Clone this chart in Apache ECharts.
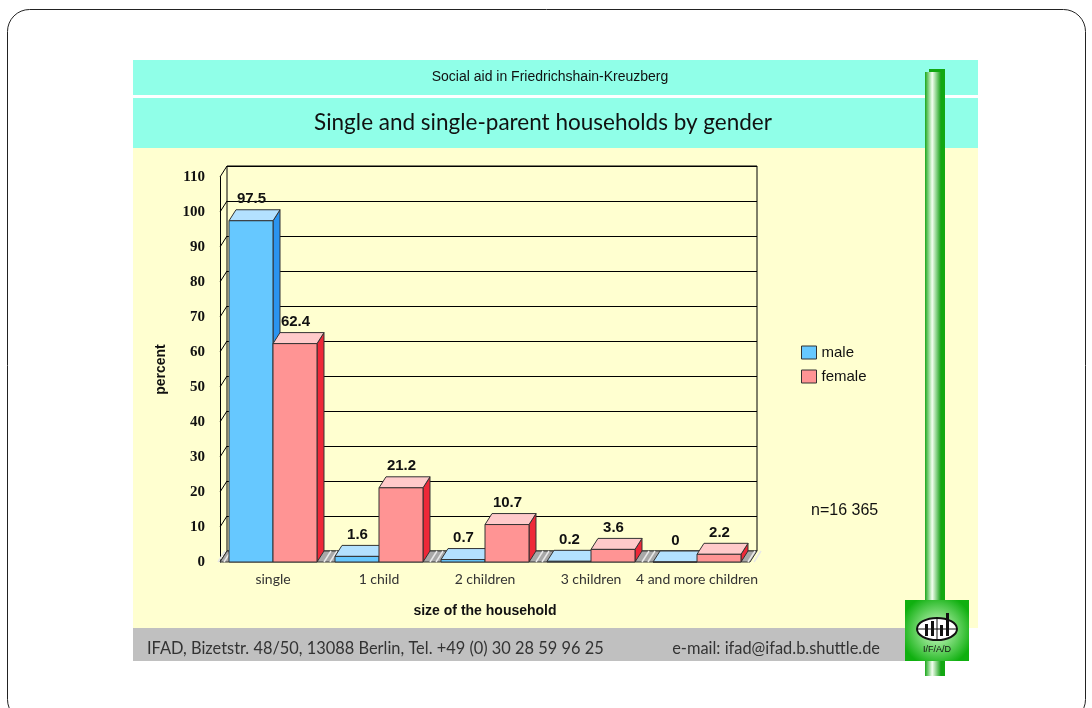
<!DOCTYPE html>
<html lang="en">

<head>
    <meta charset="UTF-8">
    <title>Single and single-parent households by gender</title>
    <script src="https://cdn.jsdelivr.net/npm/echarts@6/dist/echarts.min.js"></script>
    <style>
        html, body { margin: 0; padding: 0; background: #fff; }
    </style>
</head>

<body>
    <div id="main" style="width: 1092px; height: 708px;"></div>
    <script>
        // data
        var categories = ['single', '1 child', '2 children', '3 children', '4 and more children'];
        var maleValues = [97.5, 1.6, 0.7, 0.2, 0];
        var femaleValues = [62.4, 21.2, 10.7, 3.6, 2.2];
        var yTicks = [0, 10, 20, 30, 40, 50, 60, 70, 80, 90, 100, 110];

        // 3d depth of the box
        var DX = 7, DY = -11;

        var myChart = echarts.init(document.getElementById('main'));

        var colors = {
            male: { front: '#66c8ff', top: '#b3e1ff', side: '#2a94f0' },
            female: { front: '#ff9494', top: '#ffcaca', side: '#ee2838' }
        };

        function barRender(kind) {
            var c = colors[kind];
            return function (params, api) {
                var cat = api.value(0), v = api.value(1);
                var top = api.coord([cat, v]);
                var base = api.coord([cat, 0]);
                var bw = api.size([1, 0])[0] * 0.415;
                var x0 = kind === 'male' ? top[0] - bw : top[0];
                var x1 = x0 + bw;
                var yt = top[1], yb = base[1];
                var edge = { stroke: '#333', lineWidth: 1 };
                return {
                    type: 'group',
                    children: [
                        {
                            type: 'polygon',
                            shape: { points: [[x1, yt], [x1 + DX, yt + DY], [x1 + DX, yb + DY], [x1, yb]] },
                            style: Object.assign({ fill: c.side }, edge)
                        },
                        {
                            type: 'polygon',
                            shape: { points: [[x0, yt], [x0 + DX, yt + DY], [x1 + DX, yt + DY], [x1, yt]] },
                            style: Object.assign({ fill: c.top }, edge)
                        },
                        {
                            type: 'rect',
                            shape: { x: x0, y: yt, width: bw, height: yb - yt },
                            style: Object.assign({ fill: c.front }, edge)
                        },
                        {
                            type: 'text',
                            style: {
                                text: String(v),
                                x: (x0 + x1) / 2 + DX / 2 - 3,
                                y: yt + DY - 3,
                                align: 'center',
                                verticalAlign: 'bottom',
                                font: 'bold 15px "Liberation Sans", Arial, sans-serif',
                                fill: '#111'
                            }
                        }
                    ]
                };
            };
        }

        // floor strip under the bars
        function floorRender(params, api) {
            var cs = params.coordSys;
            var y0 = api.coord([0, 0])[1];
            var x0 = cs.x, x1 = cs.x + cs.width;
            var step = cs.width / categories.length;
            var children = [{
                type: 'polygon',
                shape: { points: [[x0, y0], [x1, y0], [x1 + DX, y0 + DY], [x0 + DX, y0 + DY]] },
                style: { fill: '#a8a8a8', stroke: '#333', lineWidth: 1 }
            }];
            for (var i = 0; i <= categories.length; i++) {
                var bx = x0 + i * step;
                [-2, 4].forEach(function (o) {
                    children.push({
                        type: 'line',
                        shape: { x1: bx + o, y1: y0, x2: bx + o + DX, y2: y0 + DY },
                        style: { stroke: '#e8e8e8', lineWidth: 1.5 }
                    });
                });
            }
            return { type: 'group', children: children };
        }

        // slanted ticks on the left wall
        function wallRender(params, api) {
            var cs = params.coordSys;
            var y = api.coord([0, api.value(0)])[1];
            return {
                type: 'line',
                shape: { x1: cs.x, y1: y, x2: cs.x + DX, y2: y + DY },
                style: { stroke: '#000', lineWidth: 1 }
            };
        }

        var option = {
            animation: false,
            graphic: [
                { type: 'rect', z: -10, shape: { x: 7.5, y: 9.5, width: 1078, height: 712, r: 22 }, style: { fill: '#fff', stroke: '#222', lineWidth: 1 } },
                { type: 'rect', z: -9, shape: { x: 133, y: 148, width: 845, height: 480 }, style: { fill: '#ffffd0' } },
                { type: 'rect', z: -9, shape: { x: 133, y: 60, width: 845, height: 35 }, style: { fill: '#90ffe8' } },
                { type: 'rect', z: -9, shape: { x: 133, y: 98, width: 845, height: 50 }, style: { fill: '#90ffe8' } },
                { type: 'rect', z: -9, shape: { x: 133, y: 628, width: 775, height: 33 }, style: { fill: '#c0c0c0' } },
                {
                    type: 'text', z: 5, style: {
                        text: 'Social aid in Friedrichshain-Kreuzberg', x: 550, y: 77, align: 'center', verticalAlign: 'middle',
                        font: '14px "Liberation Sans", Arial, sans-serif', fill: '#111'
                    }
                },
                {
                    type: 'text', z: 5, style: {
                        text: 'Single and single-parent households by gender', x: 543, y: 123, align: 'center', verticalAlign: 'middle',
                        font: '22.5px Lato, sans-serif', fill: '#111'
                    }
                },
                {
                    type: 'text', z: 5, style: {
                        text: 'IFAD, Bizetstr. 48/50, 13088 Berlin, Tel. +49 (0) 30 28 59 96 25', x: 147, y: 649, verticalAlign: 'middle',
                        font: '16.4px Lato, sans-serif', fill: '#333'
                    }
                },
                {
                    type: 'text', z: 5, style: {
                        text: 'e-mail: ifad@ifad.b.shuttle.de', x: 880, y: 649, align: 'right', verticalAlign: 'middle',
                        font: '16.4px Lato, sans-serif', fill: '#333'
                    }
                },
                {
                    type: 'text', z: 5, style: {
                        text: 'n=16 365', x: 811, y: 511, verticalAlign: 'middle',
                        font: '16px "Liberation Sans", Arial, sans-serif', fill: '#111'
                    }
                },
                // green pole
                { type: 'rect', z: 50, shape: { x: 929, y: 69, width: 16, height: 607 }, style: { fill: '#12a812' } },
                {
                    type: 'rect', z: 51, shape: { x: 925, y: 72, width: 16, height: 604 },
                    style: {
                        fill: new echarts.graphic.LinearGradient(0, 0, 1, 0, [
                            { offset: 0, color: '#1aa81a' },
                            { offset: 0.45, color: '#f4fff0' },
                            { offset: 1, color: '#14a014' }
                        ])
                    }
                },
                // logo
                {
                    type: 'rect', z: 60, shape: { x: 905, y: 600, width: 64, height: 61 },
                    style: {
                        fill: new echarts.graphic.RadialGradient(0.5, 0.5, 0.6, [
                            { offset: 0, color: '#d8ffd0' },
                            { offset: 1, color: '#10b010' }
                        ])
                    }
                },
                { type: 'ellipse', z: 61, shape: { cx: 937, cy: 629, rx: 20, ry: 11 }, style: { fill: '#fff', stroke: '#111', lineWidth: 2 } },
                { type: 'line', z: 62, shape: { x1: 917, y1: 629, x2: 957, y2: 629 }, style: { stroke: '#111', lineWidth: 1 } },
                { type: 'line', z: 62, shape: { x1: 937, y1: 618, x2: 937, y2: 640 }, style: { stroke: '#111', lineWidth: 1 } },
                { type: 'rect', z: 62, shape: { x: 925, y: 624, width: 3, height: 12 }, style: { fill: '#111' } },
                { type: 'rect', z: 62, shape: { x: 931, y: 621, width: 3, height: 15 }, style: { fill: '#111' } },
                { type: 'rect', z: 62, shape: { x: 940, y: 625, width: 3, height: 11 }, style: { fill: '#111' } },
                { type: 'rect', z: 62, shape: { x: 946, y: 613, width: 3, height: 23 }, style: { fill: '#111' } },
                {
                    type: 'text', z: 62, style: {
                        text: 'I/F/A/D', x: 937, y: 650, align: 'center', verticalAlign: 'middle',
                        font: '9px "Liberation Sans", Arial, sans-serif', fill: '#111'
                    }
                }
            ],
            legend: {
                data: ['male', 'female'],
                orient: 'vertical',
                left: 796,
                top: 340,
                icon: 'rect',
                itemWidth: 15,
                itemHeight: 13,
                itemGap: 9,
                itemStyle: { borderColor: '#333', borderWidth: 1 },
                textStyle: { fontFamily: '"Liberation Sans", Arial, sans-serif', fontSize: 15, color: '#111' }
            },
            grid: [
                { left: 220, top: 177, width: 530, height: 385 },
                { left: 227, top: 166, width: 530, height: 385, show: true, borderColor: '#000', borderWidth: 1, backgroundColor: 'transparent' }
            ],
            xAxis: [
                {
                    type: 'category', gridIndex: 0, data: categories,
                    axisLine: { show: false }, axisTick: { show: false },
                    axisLabel: { margin: 10, fontFamily: 'Lato, sans-serif', fontSize: 14, color: '#333', interval: 0 },
                    name: 'size of the household', nameLocation: 'middle', nameGap: 42,
                    nameTextStyle: { fontFamily: '"Liberation Sans", Arial, sans-serif', fontWeight: 'bold', fontSize: 14, color: '#111' }
                },
                {
                    type: 'category', gridIndex: 1, data: categories, show: false
                }
            ],
            yAxis: [
                {
                    type: 'value', gridIndex: 0, min: 0, max: 110, interval: 10,
                    axisLine: { show: true, lineStyle: { color: '#000', width: 1 } },
                    axisTick: { show: false },
                    splitLine: { show: false },
                    axisLabel: { margin: 15, fontFamily: '"Liberation Serif", serif', fontWeight: 'bold', fontSize: 15, color: '#111' },
                    name: 'percent', nameLocation: 'middle', nameGap: 52, nameRotate: 90,
                    nameTextStyle: { fontFamily: '"Liberation Sans", Arial, sans-serif', fontWeight: 'bold', fontSize: 14, color: '#111' }
                },
                {
                    type: 'value', gridIndex: 1, min: 0, max: 110, interval: 10,
                    axisLine: { show: false }, axisTick: { show: false }, axisLabel: { show: false },
                    splitLine: { show: true, lineStyle: { color: '#000', width: 1 } }
                }
            ],
            series: [
                {
                    type: 'custom', name: 'wall', xAxisIndex: 0, yAxisIndex: 0, z: 1, silent: true,
                    renderItem: wallRender, data: yTicks.map(function (t) { return [t]; })
                },
                {
                    type: 'custom', name: 'floor', xAxisIndex: 0, yAxisIndex: 0, z: 2, silent: true,
                    renderItem: floorRender, data: [[0]]
                },
                {
                    type: 'custom', name: 'male', xAxisIndex: 0, yAxisIndex: 0, z: 3,
                    itemStyle: { color: colors.male.front },
                    renderItem: barRender('male'),
                    data: maleValues.map(function (v, i) { return [i, v]; })
                },
                {
                    type: 'custom', name: 'female', xAxisIndex: 0, yAxisIndex: 0, z: 4,
                    itemStyle: { color: colors.female.front },
                    renderItem: barRender('female'),
                    data: femaleValues.map(function (v, i) { return [i, v]; })
                }
            ]
        };

        myChart.setOption(option);
    </script>
</body>

</html>
